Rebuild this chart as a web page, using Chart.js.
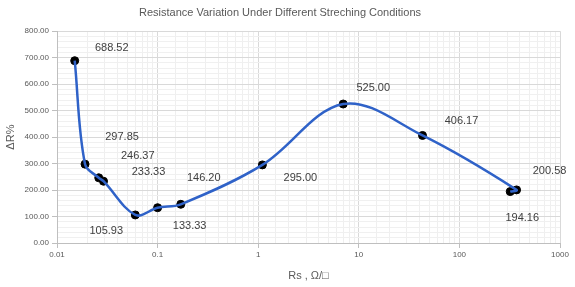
<!DOCTYPE html>
<html>
<head>
<meta charset="utf-8">
<script src="https://cdn.jsdelivr.net/npm/chart.js@4/dist/chart.umd.min.js"></script>
<style>
  html, body { margin: 0; padding: 0; background: #fff; }
  #wrap { width: 575px; height: 287px; }
</style>
</head>
<body>
<div id="wrap"><canvas id="c"></canvas></div>
<script>
// data (Rs in Ω/□, ΔR in %)
const rsValues = [0.015, 0.019, 0.026, 0.029, 0.06, 0.1, 0.17, 1.1, 7, 43, 370, 320];
const drValues = [688.52, 297.85, 246.37, 233.33, 105.93, 133.33, 146.20, 295.00, 525.00, 406.17, 200.58, 194.16];
const xTickLabels = ['0.01', '0.1', '1', '10', '100', '1000'];
const yTickLabels = ['0.00', '100.00', '200.00', '300.00', '400.00', '500.00', '600.00', '700.00', '800.00'];

// where each data label sits relative to its point (px)
const labelOffsets = [[37, -13], [37, -27], [39, -22], [45, -9], [-29, 16], [32, 18],
  [23, -26], [38, 13], [30, -16], [39, -14], [33, -19], [12, 26]];

const FONT = '"Liberation Sans", Arial, sans-serif';
const points = rsValues.map((x, i) => ({ x, y: drValues[i] }));

const isDecade = v => Math.abs(Math.log10(v) - Math.round(Math.log10(v))) < 1e-6;

const dataLabels = {
  id: 'dataLabels',
  afterDatasetsDraw(chart) {
    const { ctx, scales } = chart;
    ctx.save();
    ctx.font = '11px ' + FONT;
    ctx.fillStyle = '#404040';
    ctx.textAlign = 'center';
    ctx.textBaseline = 'middle';
    points.forEach((p, i) => {
      const px = scales.x.getPixelForValue(p.x);
      const py = scales.y.getPixelForValue(p.y);
      ctx.fillText(p.y.toFixed(2), px + labelOffsets[i][0], py + labelOffsets[i][1]);
    });
    ctx.restore();
  }
};

new Chart(document.getElementById('c'), {
  type: 'scatter',
  data: {
    datasets: [
      {
        label: 'line',
        data: points,
        showLine: true,
        borderColor: '#2f62c8',
        borderWidth: 2.5,
        tension: 0.35,
        pointRadius: 0,
        order: 1
      },
      {
        label: 'markers',
        data: points,
        showLine: false,
        pointRadius: 4,
        pointBackgroundColor: '#000',
        pointBorderColor: '#000',
        pointBorderWidth: 1,
        order: 2
      }
    ]
  },
  options: {
    responsive: true,
    maintainAspectRatio: false,
    animation: false,
    layout: { padding: { left: 0, right: 15, top: 0, bottom: 0 } },
    plugins: {
      legend: { display: false },
      tooltip: { enabled: false },
      title: {
        display: true,
        text: 'Resistance Variation Under Different Streching Conditions',
        color: '#595959',
        font: { family: FONT, size: 11, weight: 'normal' },
        padding: { top: 6, bottom: 12 }
      }
    },
    scales: {
      x: {
        type: 'logarithmic',
        min: 0.01, max: 1000,
        afterFit: s => { s.height = 44; },
        title: { display: true, text: 'Rs , Ω/□', color: '#595959', font: { family: FONT, size: 11 }, padding: { top: 6 } },
        ticks: {
          autoSkip: false, maxRotation: 0, color: '#595959', font: { family: FONT, size: 8 }, padding: 2,
          callback: v => isDecade(v) ? xTickLabels[Math.round(Math.log10(v)) + 2] : ''
        },
        grid: {
          color: c => c.tick && isDecade(c.tick.value) ? '#d9d9d9' : '#efefef',
          tickColor: c => c.tick && isDecade(c.tick.value) ? '#bfbfbf' : 'rgba(0,0,0,0)',
          tickLength: 5
        },
        border: { color: '#bfbfbf' }
      },
      y: {
        min: 0, max: 800,
        afterFit: s => { s.width = 57; },
        title: { display: true, text: 'ΔR%', color: '#595959', font: { family: FONT, size: 11 }, padding: { top: 4, bottom: 6 } },
        ticks: {
          stepSize: 20, autoSkip: false, color: '#595959', font: { family: FONT, size: 8 }, padding: 3,
          callback: v => v % 100 === 0 ? yTickLabels[v / 100] : ''
        },
        grid: {
          color: c => c.tick && c.tick.value % 100 === 0 ? '#d9d9d9' : '#f0f0f0',
          tickColor: c => c.tick && c.tick.value % 100 === 0 ? '#bfbfbf' : 'rgba(0,0,0,0)',
          tickLength: 5
        },
        border: { color: '#bfbfbf' }
      }
    }
  },
  plugins: [dataLabels]
});
</script>
</body>
</html>
